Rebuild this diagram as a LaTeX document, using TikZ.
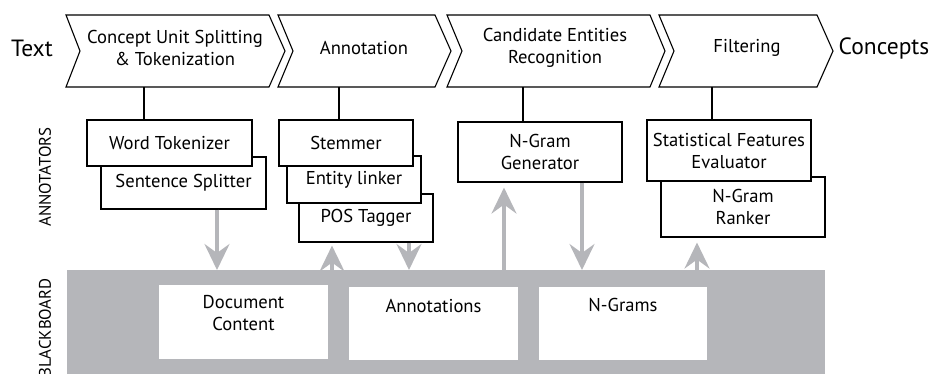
\documentclass[tikz,border=0pt]{standalone}
\usepackage{fontspec}
\setmainfont{PT Sans}
\usetikzlibrary{arrows.meta}
\definecolor{bbgray}{RGB}{181,182,186}
\begin{document}
\begin{tikzpicture}[x=1pt,y=-1pt,
  font=\fontsize{18.6}{22}\selectfont,
  box/.style={draw=black, line width=1.1pt, fill=white, inner sep=0pt, align=center},
  wbox/.style={fill=white, inner sep=0pt},
  chev/.style={draw=black, line width=1.1pt, line join=miter},
  conn/.style={draw=black, line width=1.1pt},
  garrow/.style={draw=bbgray, line width=3.5pt, -{Stealth[length=26pt,width=25pt,inset=9pt]}},
  txt/.style={inner sep=0pt, align=center},
  big/.style={font=\fontsize{23.5}{26}\selectfont},
  side/.style={font=\fontsize{16.8}{18}\selectfont, rotate=90}]
\useasboundingbox (0,0) rectangle (935,373);
\clip (0,0) rectangle (935,373);

% chevrons
\draw[chev] (66,15) -- (269,15) -- (285,51) -- (269,87) -- (66,87) -- (80,51) -- cycle;
\draw[chev] (278,15) -- (435,15) -- (451,51) -- (435,87) -- (278,87) -- (293,51) -- cycle;
\draw[chev] (447,15) -- (650,15) -- (665,51) -- (650,87) -- (447,87) -- (462,51) -- cycle;
\draw[chev] (659,15) -- (817,15) -- (833,51) -- (817,87) -- (659,87) -- (674,51) -- cycle;

\node[txt] (c1) at (175,48) {Concept Unit Splitting\\\& Tokenization};
\node[txt] (c2) at (364,48) {Annotation};
\node[txt] (c3) at (555,48) {Candidate Entities\\Recognition};
\node[txt] (c4) at (747,48) {Filtering};
\node[txt,big] (tx) at (32,48) {Text};
\node[txt,big] (cc) at (884,48) {Concepts};

\coordinate (c1b) at (144,87);
\coordinate (c2b) at (339,87);
\coordinate (c3b) at (523,87);
\coordinate (c4b) at (712,87);

% side labels
\node[txt,side] (annl) at (45,177) {ANNOTATORS};
\node[txt,side] (bbl) at (45,328) {BLACKBOARD};

% annotator boxes
\node[box, minimum width=165pt, minimum height=52pt] (ss) at (183.5,183) {Sentence Splitter};
\node[box, minimum width=165pt, minimum height=46pt] (wt) at (169.5,143) {Word Tokenizer};

\node[box, minimum width=134pt, minimum height=48pt] (pos) at (366,218) {POS Tagger};
\node[box, minimum width=134pt, minimum height=47pt] (el) at (354,179.5) {Entity linker};
\node[box, minimum width=134pt, minimum height=46pt] (st) at (346,143) {Stemmer};

\node[box, minimum width=164pt, minimum height=60pt] (ngg) at (540,152) {N-Gram\\Generator};

\node[box, minimum width=164pt, minimum height=60pt] (rk) at (743,207) {N-Gram\\Ranker};
\node[box, minimum width=164pt, minimum height=61pt] (sfe) at (729,150.5) {Statistical Features\\Evaluator};

% connectors chevron -> annotators
\draw[conn] (c1b) -- (c1b |- wt.north);
\draw[conn] (c2b) -- (c2b |- st.north);
\draw[conn] (c3b) -- (c3b |- ngg.north);
\draw[conn] (c4b) -- (c4b |- sfe.north);

% blackboard
\node[fill=bbgray, inner sep=0pt, minimum width=758pt, minimum height=110pt, anchor=north west] (bb) at (67,270) {};
\node[wbox, minimum width=169pt, minimum height=74pt] (dc) at (243.5,322) {};
\node[wbox, minimum width=169pt, minimum height=73pt] (an) at (433.5,323.5) {};
\node[wbox, minimum width=168pt, minimum height=73pt] (ng) at (623,323.5) {};
\node[txt, anchor=north] (dct) at ([yshift=-10pt]dc.north) {Document\\Content};
\node[txt, anchor=north] (ant) at ([yshift=-12pt]an.north) {Annotations};
\node[txt, anchor=north] (ngt) at ([yshift=-11pt]ng.north) {N-Grams};

% gray arrows
\draw[garrow] ([xshift=33.5pt]ss.south) -- ([xshift=33.5pt]ss.south |- bb.north);
\draw[garrow, shorten >=3pt] ([xshift=-34pt]pos.south |- bb.north) -- ([xshift=-34pt]pos.south);
\draw[garrow] ([xshift=43pt]pos.south) -- ([xshift=43pt]pos.south |- bb.north);
\draw[garrow, shorten >=5pt] ([xshift=-36pt]ngg.south |- bb.north) -- ([xshift=-36pt]ngg.south);
\draw[garrow] ([xshift=42pt]ngg.south) -- ([xshift=42pt]ngg.south |- bb.north);
\draw[garrow, shorten >=5pt] ([xshift=-46pt]rk.south |- bb.north) -- ([xshift=-46pt]rk.south);
\end{tikzpicture}
\end{document}
